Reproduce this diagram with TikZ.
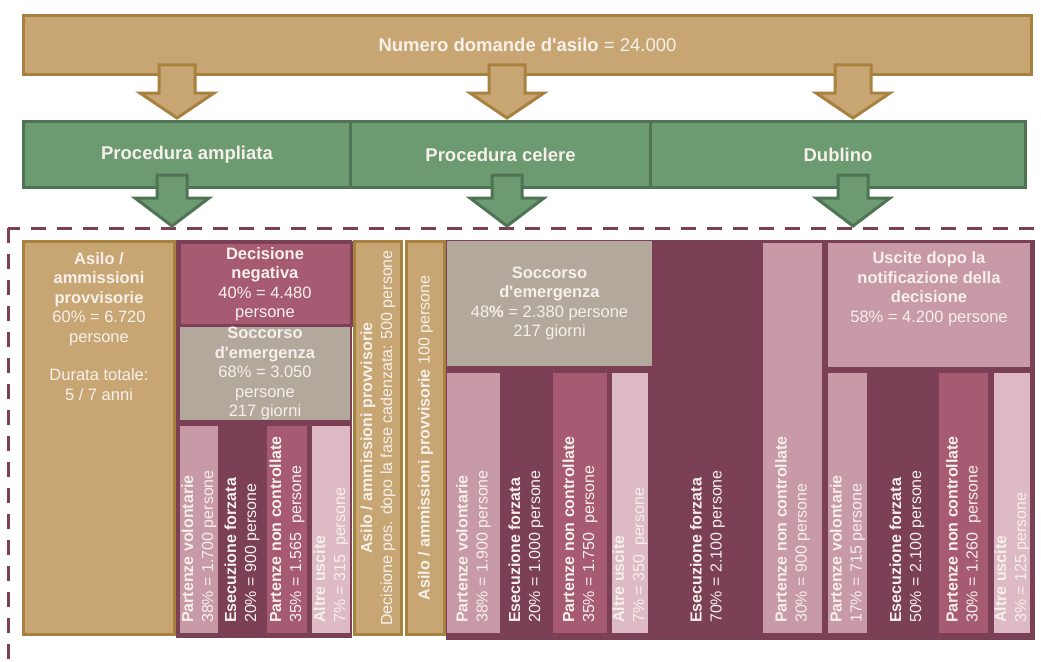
\documentclass[tikz,border=0pt]{standalone}
\usepackage{fontspec}
\setmainfont{Liberation Sans}
\usepackage{xcolor}
\usepackage{tikz}
\usetikzlibrary{arrows.meta,positioning}

\definecolor{tanfill}{HTML}{C8A673}
\definecolor{tanline}{HTML}{A8813F}
\definecolor{greenfill}{HTML}{6C9A71}
\definecolor{greenline}{HTML}{4F7454}
\definecolor{maroon}{HTML}{7B4056}
\definecolor{rose}{HTML}{A75B73}
\definecolor{blush}{HTML}{C899A6}
\definecolor{pale}{HTML}{DDBAC6}
\definecolor{stone}{HTML}{B3A89C}
\definecolor{ink}{HTML}{F6F0EA}

\newcommand{\fnbig}{\fontsize{18.5}{22}\selectfont}
\newcommand{\fnbox}{\fontsize{16.5}{19.5}\selectfont}
\newcommand{\fnbar}{\fontsize{16}{20}\selectfont}
\newcommand{\apo}{\textquotesingle}

\begin{document}
\begin{tikzpicture}[
    x=1pt, y=-1pt,
    font=\fnbox, text=ink,
    band/.style={draw, line width=3pt, align=center, font=\fnbig, inner sep=0pt},
    blockarr/.style={line width=3pt, line join=miter},
    cell/.style={inner sep=0pt, outer sep=0pt, align=center},
    tancol/.style={draw=tanline, fill=tanfill, line width=2.5pt, inner sep=0pt, align=center, font=\fnbar},
    vtext/.style={rotate=90, anchor=west, inner sep=0pt, align=left, font=\fnbar},
    dashbox/.style={draw=maroon, line width=3pt, dash pattern=on 15pt off 11pt}
  ]
  \useasboundingbox (0,0) rectangle (1041,661);
  \clip (0,0) rectangle (1041,661);

  \node[band, draw=tanline, fill=tanfill, minimum width=1008pt, minimum height=59pt] (numero) at (527.5,45) {\textbf{Numero domande d\apo asilo} = 24.000};

  \node[band, draw=greenline, fill=greenfill, minimum width=327pt, minimum height=66pt, font=\fnbig\bfseries] (ampliata) at (187,154.5) {Procedura ampliata};
  \node[band, draw=greenline, fill=greenfill, minimum width=300pt, minimum height=66pt, font=\fnbig\bfseries, right=-3pt of ampliata] (celere) {Procedura celere};
  \node[band, draw=greenline, fill=greenfill, minimum width=375pt, minimum height=66pt, font=\fnbig\bfseries, right=-3pt of celere] (dublino) {Dublino};

  \foreach \ax in {177,507,853}
    \draw[blockarr, draw=tanline, fill=tanfill] (\ax-18,65) -- (\ax+18,65) -- (\ax+18,93) -- (\ax+37,93) -- (\ax,118) -- (\ax-37,93) -- (\ax-18,93) -- cycle;

  \draw[dashbox] (8,228) rectangle (1060,690);

  \foreach \ax in {172,507,853}
    \draw[blockarr, draw=greenline, fill=greenfill] (\ax-15,175) -- (\ax+15,175) -- (\ax+15,198) -- (\ax+37,198) -- (\ax,226) -- (\ax-37,198) -- (\ax-15,198) -- cycle;

  % procedura ampliata
  \node[tancol, minimum width=151pt, minimum height=393pt] (asilo) at (99,438) {};
  \node[cell, below=12pt of asilo.north] (asilotxt) {\textbf{Asilo /}\\\textbf{ammissioni}\\\textbf{provvisorie}\\60\% = 6.720\\persone\\[19pt]Durata totale:\\5 / 7 anni};

  \node[cell, fill=maroon, minimum width=176pt, minimum height=398pt] (ampbg) at (264,439) {};
  \node[cell, draw=maroon, fill=rose, line width=3pt, minimum width=172pt, minimum height=83pt] (neg) at (265,284) {\textbf{Decisione}\\\textbf{negativa}\\40\% = 4.480\\persone};
  \node[cell, fill=stone, minimum width=170pt, minimum height=93pt] (socc1) at (265,373.5) {\textbf{Soccorso}\\\textbf{d\apo emergenza}\\68\% = 3.050\\persone\\217 giorni};

  \node[cell, fill=blush, minimum width=38pt, minimum height=207pt] (vol1) at (199,529.5) {};
  \node[cell, fill=maroon, minimum width=48pt, minimum height=207pt, right=0pt of vol1] (esec1) {};
  \node[cell, fill=rose, minimum width=40pt, minimum height=207pt, right=1pt of esec1] (nonc1) {};
  \node[cell, fill=pale, minimum width=38pt, minimum height=207pt, right=5pt of nonc1] (altre1) {};
  \node[vtext] (vol1t) at ([yshift=10pt]vol1.south) {\textbf{Partenze volontarie}\\38\% = 1.700 persone};
  \node[vtext] (esec1t) at ([yshift=10pt]esec1.south) {\textbf{Esecuzione forzata}\\20\% = 900 persone};
  \node[vtext] (nonc1t) at ([yshift=10pt]nonc1.south) {\textbf{Partenze non controllate}\\35\% = 1.565\ \ persone};
  \node[vtext] (altre1t) at ([yshift=10pt]altre1.south) {\textbf{Altre uscite}\\7\% = 315\ \ persone};

  % ammissioni
  \node[tancol, rotate=90, minimum width=393pt, minimum height=47pt] (pos1) at (378,438) {\textbf{Asilo / ammissioni provvisorie}\\Decisione pos. dopo la fase cadenzata: 500 persone};
  \node[tancol, rotate=90, minimum width=393pt, minimum height=38pt] (pos2) at (425.5,438) {\textbf{Asilo / ammissioni provvisorie} 100 persone};

  % procedura celere
  \node[cell, fill=maroon, minimum width=206pt, minimum height=400pt] (celbg) at (549,440) {};
  \node[cell, fill=stone, minimum width=205pt, minimum height=125pt] (socc2) at (549.5,303.5) {\textbf{Soccorso}\\\textbf{d\apo emergenza}\\48\textbf{\%} = 2.380 persone\\217 giorni};

  \node[cell, fill=blush, minimum width=53pt, minimum height=260pt] (vol2) at (473.5,503) {};
  \node[cell, fill=maroon, minimum width=52pt, minimum height=260pt, right=0pt of vol2] (esec2) {};
  \node[cell, fill=rose, minimum width=54pt, minimum height=260pt, right=1pt of esec2] (nonc2) {};
  \node[cell, fill=pale, minimum width=36pt, minimum height=260pt, right=5pt of nonc2] (altre2) {};
  \node[vtext] (vol2t) at ([yshift=10pt]vol2.south) {\textbf{Partenze volontarie}\\38\% = 1.900 persone};
  \node[vtext] (esec2t) at ([yshift=10pt]esec2.south) {\textbf{Esecuzione forzata}\\20\% = 1.000 persone};
  \node[vtext] (nonc2t) at ([yshift=10pt]nonc2.south) {\textbf{Partenze non controllate}\\35\% = 1.750\ \ persone};
  \node[vtext] (altre2t) at ([yshift=10pt]altre2.south) {\textbf{Altre uscite}\\7\% = 350\ \ persone};

  % dublino
  \node[cell, fill=maroon, minimum width=383pt, minimum height=400pt] (dubbg) at (843.5,440) {};
  \node[cell, fill=maroon, minimum width=111pt, minimum height=393pt] (esec3) at (707.5,436.5) {};
  \node[cell, fill=blush, minimum width=59pt, minimum height=390pt] (nonc3) at (792.5,438) {};
  \node[cell, fill=blush, minimum width=202pt, minimum height=124pt] (uscite) at (929,305) {};
  \node[cell, below=9pt of uscite.north] (uscitet) {\textbf{Uscite dopo la}\\\textbf{notificazione della}\\\textbf{decisione}\\58\% = 4.200 persone};

  \node[cell, fill=blush, minimum width=39pt, minimum height=260pt] (vol3) at (847.5,503) {};
  \node[cell, fill=maroon, minimum width=80pt, minimum height=265pt] (esec4) at (907,505.5) {};
  \node[cell, fill=rose, minimum width=49pt, minimum height=260pt] (nonc4) at (963.5,503) {};
  \node[cell, fill=pale, minimum width=36pt, minimum height=260pt] (altre4) at (1012,503) {};

  \node[vtext] (esec3t) at ([yshift=10pt]esec3.south) {\textbf{Esecuzione forzata}\\70\% = 2.100 persone};
  \node[vtext] (nonc3t) at ([yshift=10pt]nonc3.south) {\textbf{Partenze non controllate}\\30\% = 900 persone};
  \node[vtext] (vol3t) at ([yshift=10pt]vol3.south) {\textbf{Partenze volontarie}\\17\% = 715 persone};
  \node[vtext] (esec4t) at ([yshift=15pt]esec4.south) {\textbf{Esecuzione forzata}\\50\% = 2.100 persone};
  \node[vtext] (nonc4t) at ([yshift=10pt]nonc4.south) {\textbf{Partenze non controllate}\\30\% = 1.260\ \ persone};
  \node[vtext] (altre4t) at ([yshift=10pt]altre4.south) {\textbf{Altre uscite}\\3\% = 125 persone};
\end{tikzpicture}
\end{document}
